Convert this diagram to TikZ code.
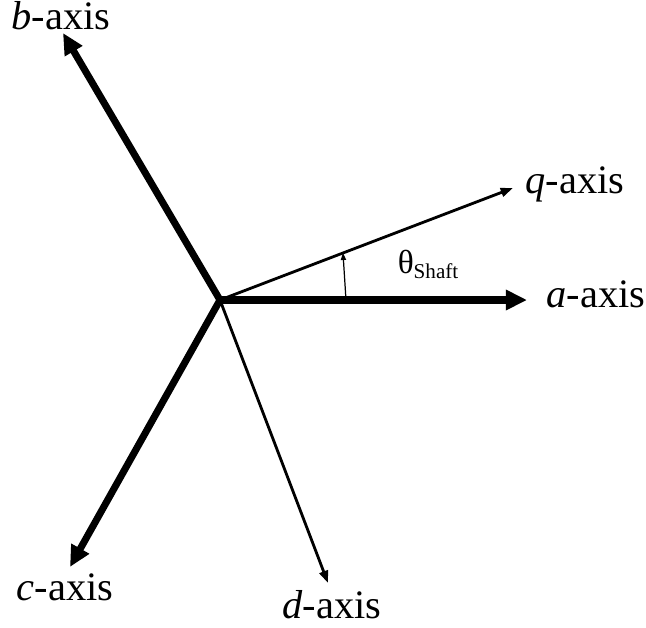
\documentclass[tikz,border=0pt]{standalone}
\usepackage{fontspec}
\setmainfont{Liberation Serif}
\usetikzlibrary{
    arrows.meta, % For arrow tips
    positioning  % For label positioning
}

\begin{document}
\begin{tikzpicture}[
    x=0.02cm, y=0.02cm,
    phase/.style={line width=4pt, -{Triangle[length=12pt, width=11pt]}}, % Style for a, b, c axes
    rotor/.style={line width=1.6pt, -{Triangle[length=7pt, width=5pt]}}, % Style for q, d axes
    anglearrow/.style={line width=0.7pt, -{Triangle[length=4pt, width=3pt]}}, % Style for angle
    axislabel/.style={anchor=base, inner sep=0pt, font=\fontsize{23}{28}\selectfont} % Axis labels
]
    \useasboundingbox (-220,-327) rectangle (426,300);

    % Define coordinates for origin and axis tips
    \coordinate (O) at (0, 0);
    \coordinate (atip) at (307, 0);
    \coordinate (btip) at (-157, 267);
    \coordinate (ctip) at (-150, -267);
    \coordinate (qtip) at (293, 112);
    \coordinate (dtip) at (108, -283);

    % Define coordinates for angle marker
    \coordinate (angfrom) at (126, 0);
    \coordinate (angto) at (123, 47);

    % Draw stator axes a, b, c
    \draw[phase] (O) -- (atip);
    \draw[phase] (O) -- (btip);
    \draw[phase] (O) -- (ctip);

    % Draw rotor axes q, d
    \draw[rotor] (O) -- (qtip);
    \draw[rotor] (O) -- (dtip);

    % Angle between a-axis and q-axis
    \draw[anglearrow] (angfrom) -- (angto);

    % Labels
    \node[axislabel] (alabel) at (376, -7) {\textit{a}-axis};
    \node[axislabel] (blabel) at (-159, 271) {\textit{b}-axis};
    \node[axislabel] (clabel) at (-155, -300) {\textit{c}-axis};
    \node[axislabel] (qlabel) at (355, 107) {\textit{q}-axis};
    \node[axislabel] (dlabel) at (112, -318) {\textit{d}-axis};
    \node[anchor=base, inner sep=0pt] (thetalabel) at (208, 27)
        {\fontsize{19}{21}\selectfont θ\raisebox{-3pt}{\fontsize{12}{14}\selectfont Shaft}};

\end{tikzpicture}
\end{document}
